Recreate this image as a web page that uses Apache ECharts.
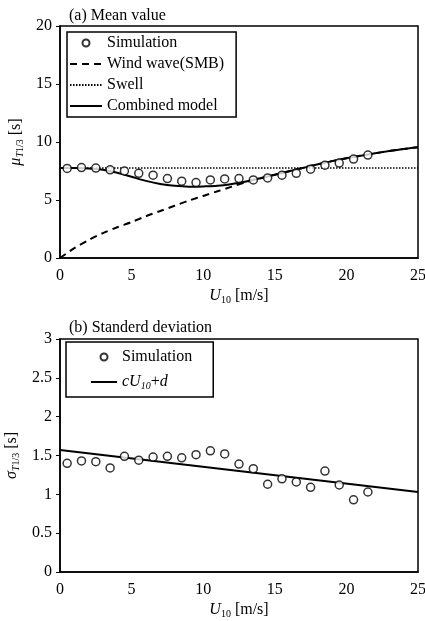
<!DOCTYPE html>
<html><head><meta charset="utf-8">
<script src="https://cdn.jsdelivr.net/npm/echarts@6/dist/echarts.min.js"></script>
<style>html,body{margin:0;padding:0;background:#fff}#c{width:425px;height:621px}</style>
</head><body><div id="c"></div>
<script>
// Simulation wind speeds
const simU = [0.5,1.5,2.5,3.5,4.5,5.5,6.5,7.5,8.5,9.5,10.5,11.5,12.5,13.5,14.5,15.5,16.5,17.5,18.5,19.5,20.5,21.5];
// (a) mean value of simulation
const simMean = [7.72,7.8,7.75,7.6,7.5,7.3,7.14,6.85,6.62,6.5,6.73,6.82,6.85,6.73,6.9,7.14,7.3,7.66,8.0,8.18,8.53,8.87];
// (b) standard deviation of simulation
const simStd = [1.40,1.43,1.42,1.34,1.49,1.44,1.48,1.49,1.47,1.51,1.56,1.52,1.39,1.33,1.13,1.20,1.16,1.09,1.30,1.12,0.93,1.03];
// model curves on U grid
const modelU = [0,1,2,3,4,5,6,7,8,9,10,11,12,13,14,15,16,17,18,19,20,21,22,23,24,25];
const windWave = [0,0.85,1.55,2.15,2.65,3.1,3.6,4.05,4.5,4.95,5.35,5.75,6.15,6.55,6.88,7.18,7.48,7.78,8.08,8.35,8.6,8.82,9.03,9.22,9.4,9.55];
const swell = [7.75,7.75,7.75,7.75,7.75,7.75,7.75,7.75,7.75,7.75,7.75,7.75,7.75,7.75,7.75,7.75,7.75,7.75,7.75,7.75,7.75,7.75,7.75,7.75,7.75,7.75];
const combined = [7.75,7.75,7.72,7.6,7.35,7.0,6.65,6.38,6.22,6.15,6.17,6.22,6.38,6.6,6.88,7.18,7.48,7.78,8.08,8.35,8.6,8.82,9.03,9.22,9.4,9.55];
const fitU = [0,25];
const fitStd = [1.57,1.03];

const pair = (xs, ys) => xs.map((x,i)=>[x,ys[i]]);
const FONT = '"Liberation Serif","DejaVu Serif",serif';
const rich = {
  i:{fontFamily:FONT,fontStyle:'italic',fontSize:16,color:'#000'},
  n:{fontFamily:FONT,fontSize:16,color:'#000'},
  s:{fontFamily:FONT,fontSize:10,color:'#000',padding:[8,0,0,0]},
  si:{fontFamily:FONT,fontStyle:'italic',fontSize:10,color:'#000',padding:[8,0,0,0]}
};
const hideSym = {opacity:0};
function xAxis(gi){
  return {gridIndex:gi,type:'value',min:0,max:25,interval:5,
    axisLine:{lineStyle:{color:'#000',width:1.5}},axisTick:{show:false},
    splitLine:{show:false},
    axisLabel:{color:'#000',fontFamily:FONT,fontSize:16,margin:10},
    name:'{i|U}{s|10}{n| [m/s]}',nameLocation:'middle',nameGap:29,
    nameTextStyle:{rich:rich}};
}
const chart = echarts.init(document.getElementById('c'),null,{renderer:'canvas'});
chart.setOption({
  animation:false,
  backgroundColor:'#fff',
  title:[
    {text:'(a) Mean value',left:64,top:3,textStyle:{fontFamily:FONT,fontSize:16,fontWeight:'normal',color:'#000'}},
    {text:'(b) Standerd deviation',left:64,top:315,textStyle:{fontFamily:FONT,fontSize:16,fontWeight:'normal',color:'#000'}}
  ],
  grid:[
    {left:60,right:7,top:26,height:232,show:true,borderColor:'#000',borderWidth:1.5,outerBoundsMode:'none',containLabel:false},
    {left:60,right:7,top:339,height:233,show:true,borderColor:'#000',borderWidth:1.5,outerBoundsMode:'none',containLabel:false}
  ],
  xAxis:[xAxis(0),xAxis(1)],
  yAxis:[
    {gridIndex:0,type:'value',min:0,max:20,interval:5,
     axisLine:{show:true,lineStyle:{color:'#000',width:1.5}},
     axisTick:{show:true,length:4,lineStyle:{color:'#000'}},splitLine:{show:false},
     axisLabel:{color:'#000',fontFamily:FONT,fontSize:16,margin:8},
     name:'{i|μ}{si|T}{s|1/3}{n| [s]}',nameLocation:'middle',nameGap:34,nameRotate:90,
     nameTextStyle:{rich:rich}},
    {gridIndex:1,type:'value',min:0,max:3,interval:0.5,
     axisLine:{show:true,lineStyle:{color:'#000',width:1.5}},
     axisTick:{show:true,length:4,lineStyle:{color:'#000'}},splitLine:{show:false},
     axisLabel:{color:'#000',fontFamily:FONT,fontSize:16,margin:8},
     name:'{i|σ}{si|T}{s|1/3}{n| [s]}',nameLocation:'middle',nameGap:34,nameRotate:90,
     nameTextStyle:{rich:rich}}
  ],
  legend:[
    {orient:'vertical',left:67,top:32,padding:[3,12,3,2],itemGap:5,itemWidth:32,itemHeight:7,
     borderColor:'#000',borderWidth:1.5,backgroundColor:'#fff',
     textStyle:{fontFamily:FONT,fontSize:16,color:'#000'},
     data:[{name:'Simulation'},{name:'Wind wave(SMB)',itemStyle:hideSym},{name:'Swell',itemStyle:hideSym},{name:'Combined model',itemStyle:hideSym}]},
    {orient:'vertical',left:66,top:342,padding:[7,17,6,24],itemGap:9,itemWidth:26,itemHeight:7,
     borderColor:'#000',borderWidth:1.5,backgroundColor:'#fff',
     textStyle:{fontFamily:FONT,fontSize:16,color:'#000',rich:rich},
     formatter:function(n){return n==='fit'?'{i|cU}{si|10}{n|+}{i|d}':n;},
     data:[{name:'Simulation '},{name:'fit',itemStyle:hideSym}]}
  ],
  series:[
    {name:'Swell',type:'line',xAxisIndex:0,yAxisIndex:0,data:pair(modelU,swell),symbol:'none',
     lineStyle:{color:'#000',width:1.5,type:[1.5,1.5]},itemStyle:{color:'#000'}},
    {name:'Wind wave(SMB)',type:'line',xAxisIndex:0,yAxisIndex:0,data:pair(modelU,windWave),symbol:'none',smooth:0.3,
     lineStyle:{color:'#000',width:2,type:[7,5]},itemStyle:{color:'#000'}},
    {name:'Combined model',type:'line',xAxisIndex:0,yAxisIndex:0,data:pair(modelU,combined),symbol:'none',smooth:0.3,
     lineStyle:{color:'#000',width:2},itemStyle:{color:'#000'}},
    {name:'Simulation',type:'scatter',xAxisIndex:0,yAxisIndex:0,data:pair(simU,simMean),symbol:'circle',symbolSize:8,
     itemStyle:{color:'#fff',borderColor:'#000',borderWidth:1.5},z:5},
    {name:'fit',type:'line',xAxisIndex:1,yAxisIndex:1,data:pair(fitU,fitStd),symbol:'none',
     lineStyle:{color:'#000',width:2},itemStyle:{color:'#000'}},
    {name:'Simulation ',type:'scatter',xAxisIndex:1,yAxisIndex:1,data:pair(simU,simStd),symbol:'circle',symbolSize:8,
     itemStyle:{color:'#fff',borderColor:'#000',borderWidth:1.5},z:5}
  ]
});
</script></body></html>
